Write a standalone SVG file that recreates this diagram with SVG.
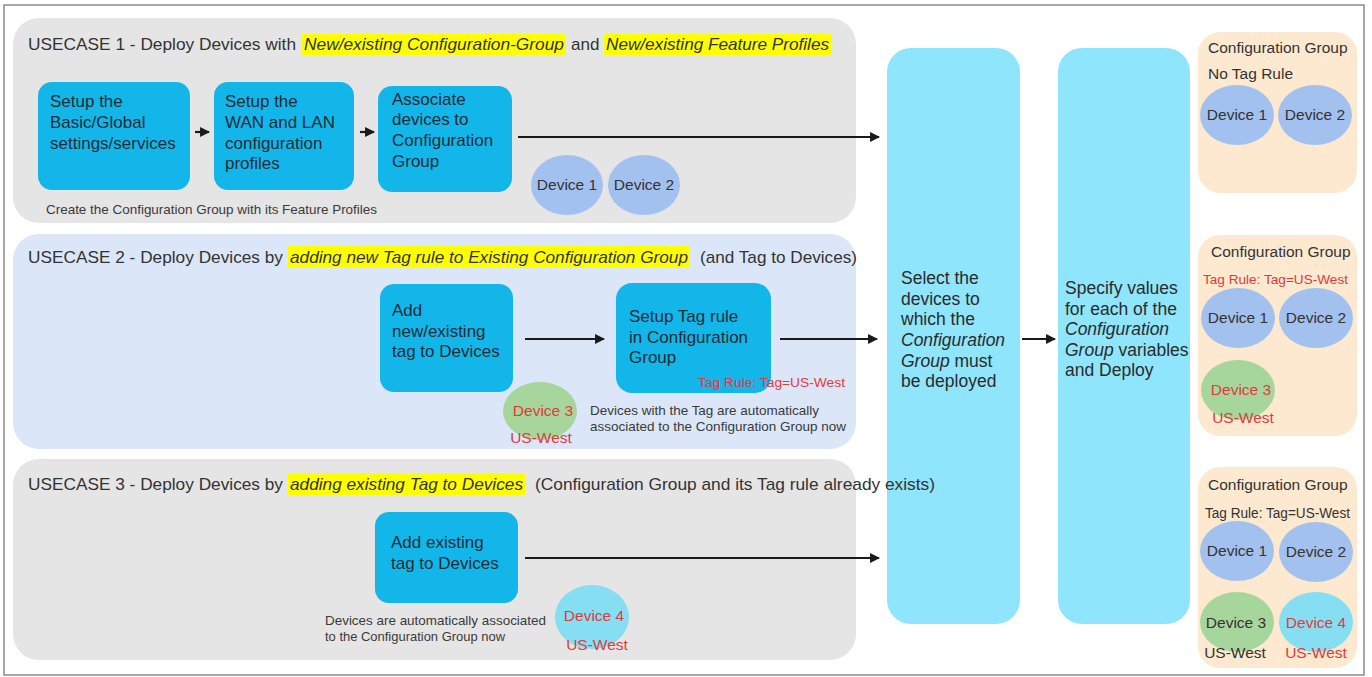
<svg xmlns="http://www.w3.org/2000/svg" width="1372" height="677" viewBox="0 0 1372 677">
<style>
text{font-family:"Liberation Sans",Arial,sans-serif;fill:#333;}
.hdr{font-size:17px;}
.it{font-style:italic;}
.box{fill:#13b6e9;}
.boxt{font-size:17px;fill:#1e2d38;}
.col{fill:#8ee5fc;}
.colt{font-size:17.5px;fill:#2b2b2b;}
.peach{fill:#fde9cf;}
.dev{font-size:15.5px;}
.blue{fill:#a3c1ef;}
.green{fill:#a7d69c;}
.cyan{fill:#86def2;}
.red{fill:#e23a3a;}
.small{font-size:13px;fill:#3a3a3a;}
.hl{fill:#ffff00;}
.conn line{stroke:#1a1a1a;stroke-width:2.2;fill:none;}
</style>
<defs>
<marker id="ah" viewBox="0 0 10 10" refX="9" refY="5" markerWidth="4.5" markerHeight="4.5" orient="auto" markerUnits="strokeWidth">
<path d="M0,0 L10,5 L0,10 z" fill="#1a1a1a"/>
</marker>
</defs>
<rect x="0" y="0" width="1372" height="677" fill="#ffffff"/>
<rect x="4" y="5" width="1360" height="670" fill="none" stroke="#8a8a8a" stroke-width="1.5"/>

<!-- USECASE 1 panel -->
<g id="usecase1">
<rect x="13" y="18" width="843" height="205" rx="26" fill="#e5e5e5"/>
<rect class="hl" x="302" y="34" width="264" height="21"/>
<rect class="hl" x="604" y="34" width="227" height="21"/>
<text class="hdr" x="28" y="50" textLength="268" lengthAdjust="spacingAndGlyphs">USECASE 1 - Deploy Devices with</text>
<text class="hdr it" x="304" y="50" textLength="260" lengthAdjust="spacingAndGlyphs">New/existing Configuration-Group</text>
<text class="hdr" x="571" y="50">and</text>
<text class="hdr it" x="606" y="50" textLength="223" lengthAdjust="spacingAndGlyphs">New/existing Feature Profiles</text>
<text class="small" x="46" y="214" textLength="331" lengthAdjust="spacingAndGlyphs">Create the Configuration Group with its Feature Profiles</text>
</g>

<!-- USECASE 2 panel -->
<g id="usecase2">
<rect x="13" y="234" width="843" height="215" rx="26" fill="#dbe6f8"/>
<rect class="hl" x="288" y="246" width="402" height="22"/>
<text class="hdr" x="28" y="263" textLength="255" lengthAdjust="spacingAndGlyphs">USECASE 2 - Deploy Devices by</text>
<text class="hdr it" x="290" y="263" textLength="398" lengthAdjust="spacingAndGlyphs">adding new Tag rule to Existing Configuration Group</text>
<text class="hdr" x="700" y="263" textLength="157" lengthAdjust="spacingAndGlyphs">(and Tag to Devices)</text>
<text class="small" x="590" y="415" textLength="229" lengthAdjust="spacingAndGlyphs">Devices with the Tag are automatically</text>
<text class="small" x="590" y="431" textLength="256" lengthAdjust="spacingAndGlyphs">associated to the Configuration Group now</text>
</g>

<!-- USECASE 3 panel -->
<g id="usecase3">
<rect x="13" y="459" width="843" height="201" rx="26" fill="#e5e5e5"/>
<rect class="hl" x="288" y="473" width="237" height="22"/>
<text class="hdr" x="28" y="490" textLength="255" lengthAdjust="spacingAndGlyphs">USECASE 3 - Deploy Devices by</text>
<text class="hdr it" x="290" y="490" textLength="233" lengthAdjust="spacingAndGlyphs">adding existing Tag to Devices</text>
<text class="small" x="325" y="625" textLength="221" lengthAdjust="spacingAndGlyphs">Devices are automatically associated</text>
<text class="small" x="325" y="641" textLength="180" lengthAdjust="spacingAndGlyphs">to the Configuration Group now</text>
</g>

<!-- Usecase 1 nodes -->
<g id="setup-basic">
<rect class="box" x="38" y="82" width="152" height="108" rx="14"/>
<text class="boxt" x="50" y="107">Setup the</text>
<text class="boxt" x="50" y="128">Basic/Global</text>
<text class="boxt" x="50" y="149">settings/services</text>
</g>
<g id="setup-wan-lan">
<rect class="box" x="214" y="82" width="140" height="108" rx="14"/>
<text class="boxt" x="225" y="107">Setup the</text>
<text class="boxt" x="225" y="128">WAN and LAN</text>
<text class="boxt" x="225" y="149">configuration</text>
<text class="boxt" x="225" y="169">profiles</text>
</g>
<g id="associate">
<rect class="box" x="378" y="86" width="134" height="106" rx="14"/>
<text class="boxt" x="392" y="105">Associate</text>
<text class="boxt" x="392" y="125">devices to</text>
<text class="boxt" x="392" y="146">Configuration</text>
<text class="boxt" x="392" y="167">Group</text>
</g>
<g id="uc1-device1">
<ellipse class="blue" cx="567" cy="185" rx="36" ry="30"/>
<text class="dev" x="567" y="190" text-anchor="middle" font-size="16">Device 1</text>
</g>
<g id="uc1-device2">
<ellipse class="blue" cx="644" cy="185" rx="36" ry="30"/>
<text class="dev" x="644" y="190" text-anchor="middle" font-size="16">Device 2</text>
</g>

<!-- Usecase 2 nodes -->
<g id="add-new-tag">
<rect class="box" x="380" y="284" width="133" height="108" rx="14"/>
<text class="boxt" x="392" y="316">Add</text>
<text class="boxt" x="392" y="337">new/existing</text>
<text class="boxt" x="392" y="357">tag to Devices</text>
</g>
<g id="setup-tag-rule">
<rect class="box" x="616" y="283" width="155" height="110" rx="16"/>
<text class="boxt" x="629" y="322">Setup Tag rule</text>
<text class="boxt" x="629" y="343">in Configuration</text>
<text class="boxt" x="629" y="363">Group</text>
<text class="red" x="698" y="387" font-size="12.5" textLength="147" lengthAdjust="spacingAndGlyphs">Tag Rule: Tag=US-West</text>
</g>
<g id="uc2-device3">
<ellipse class="green" cx="540" cy="411" rx="37" ry="29"/>
<text class="dev red" x="543" y="416" text-anchor="middle">Device 3</text>
<text class="dev red" x="541" y="443" text-anchor="middle">US-West</text>
</g>

<!-- Usecase 3 nodes -->
<g id="add-existing-tag">
<rect class="box" x="375" y="512" width="143" height="91" rx="14"/>
<text class="boxt" x="391" y="548">Add existing</text>
<text class="boxt" x="391" y="569">tag to Devices</text>
</g>
<g id="uc3-device4">
<ellipse class="cyan" cx="592" cy="617" rx="37" ry="32"/>
<text class="dev red" x="594" y="621" text-anchor="middle">Device 4</text>
<text class="dev red" x="597" y="650" text-anchor="middle">US-West</text>
</g>

<!-- Columns -->
<g id="select-devices">
<rect class="col" x="887" y="48" width="133" height="576" rx="24"/>
<text class="colt" x="901" y="284">Select the</text>
<text class="colt" x="901" y="305">devices to</text>
<text class="colt" x="901" y="325">which the</text>
<text class="colt it" x="901" y="346">Configuration</text>
<text class="colt" x="901" y="367"><tspan class="it">Group</tspan> must</text>
<text class="colt" x="901" y="387">be deployed</text>
</g>
<text class="hdr" x="535" y="490" textLength="400" lengthAdjust="spacingAndGlyphs">(Configuration Group and its Tag rule already exists)</text>
<g id="specify-values">
<rect class="col" x="1058" y="48" width="132" height="576" rx="24"/>
<text class="colt" x="1065" y="294">Specify values</text>
<text class="colt" x="1065" y="315">for each of the</text>
<text class="colt it" x="1065" y="335">Configuration</text>
<text class="colt" x="1065" y="356"><tspan class="it">Group</tspan> variables</text>
<text class="colt" x="1065" y="376">and Deploy</text>
</g>

<!-- Result panels -->
<g id="result1">
<rect class="peach" x="1198" y="32" width="159" height="161" rx="22"/>
<text class="dev" x="1208" y="53">Configuration Group</text>
<text class="dev" x="1208" y="79">No Tag Rule</text>
<ellipse class="blue" cx="1237" cy="115" rx="37" ry="30"/>
<text class="dev" x="1237" y="120" text-anchor="middle">Device 1</text>
<ellipse class="blue" cx="1315" cy="115" rx="37" ry="30"/>
<text class="dev" x="1315" y="120" text-anchor="middle">Device 2</text>
</g>
<g id="result2">
<rect class="peach" x="1198" y="235" width="159" height="201" rx="22"/>
<text class="dev" x="1211" y="257">Configuration Group</text>
<text class="red" x="1203" y="284" font-size="13" textLength="145" lengthAdjust="spacingAndGlyphs">Tag Rule: Tag=US-West</text>
<ellipse class="blue" cx="1238" cy="318" rx="37" ry="30"/>
<text class="dev" x="1238" y="323" text-anchor="middle">Device 1</text>
<ellipse class="blue" cx="1316" cy="318" rx="37" ry="30"/>
<text class="dev" x="1316" y="323" text-anchor="middle">Device 2</text>
<ellipse class="green" cx="1238" cy="390" rx="37" ry="30"/>
<text class="dev red" x="1241" y="395" text-anchor="middle">Device 3</text>
<text class="dev red" x="1243" y="423" text-anchor="middle">US-West</text>
</g>
<g id="result3">
<rect class="peach" x="1198" y="467" width="159" height="201" rx="22"/>
<text class="dev" x="1208" y="490">Configuration Group</text>
<text class="dev" x="1205" y="518" font-size="13" textLength="145" lengthAdjust="spacingAndGlyphs">Tag Rule: Tag=US-West</text>
<ellipse class="blue" cx="1237" cy="551" rx="37" ry="30"/>
<text class="dev" x="1237" y="556" text-anchor="middle">Device 1</text>
<ellipse class="blue" cx="1316" cy="552" rx="37" ry="30"/>
<text class="dev" x="1316" y="557" text-anchor="middle">Device 2</text>
<ellipse class="green" cx="1237" cy="622" rx="37" ry="30"/>
<text class="dev" x="1236" y="628" text-anchor="middle">Device 3</text>
<text class="dev" x="1235" y="658" text-anchor="middle">US-West</text>
<ellipse class="cyan" cx="1316" cy="622" rx="37" ry="30"/>
<text class="dev red" x="1316" y="628" text-anchor="middle">Device 4</text>
<text class="dev red" x="1316" y="658" text-anchor="middle">US-West</text>
</g>

<!-- Connectors -->
<g id="connectors" class="conn">
<line x1="195" y1="132" x2="209" y2="132" marker-end="url(#ah)"/>
<line x1="360" y1="132" x2="374" y2="132" marker-end="url(#ah)"/>
<line x1="518" y1="137" x2="879" y2="137" marker-end="url(#ah)"/>
<line x1="525" y1="339" x2="604" y2="339" marker-end="url(#ah)"/>
<line x1="780" y1="339" x2="877" y2="339" marker-end="url(#ah)"/>
<line x1="525" y1="558" x2="879" y2="558" marker-end="url(#ah)"/>
<line x1="1022" y1="339" x2="1055" y2="339" marker-end="url(#ah)"/>
</g>
</svg>
